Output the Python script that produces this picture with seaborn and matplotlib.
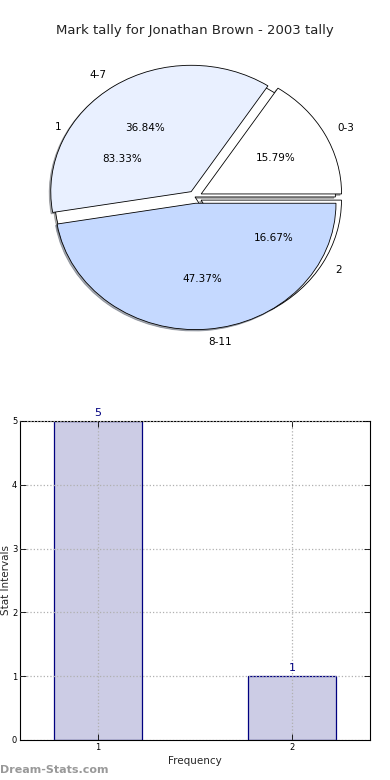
import numpy as np
import pandas as pd
import matplotlib
matplotlib.use("Agg")
import matplotlib.pyplot as plt
import seaborn as sns

# data
tally_labels = ['0-3', '4-7', '8-11']
tally_values = [3, 7, 9]          # 15.79%, 36.84%, 47.37%
freq_labels = ['1', '2']
freq_values = [5, 1]              # 83.33%, 16.67%
bar_x = [1, 2]
bar_heights = [5, 1]

sns.set_theme(style="white")
plt.rcParams['font.family'] = ['DejaVu Sans']

fig = plt.figure(figsize=(3.9, 7.8), dpi=100)

## pie chart (two pies drawn on the same axes)
shadow_kw = dict(ox=-0.008, oy=-0.008, shade=0.6)
ax1 = fig.add_axes([0.05, 0.545, 0.90, 0.405])
ax1.pie(freq_values, labels=freq_labels, autopct='%.2f%%', explode=(0, 0.05),
        colors=['white', 'white'], shadow=shadow_kw, startangle=0,
        wedgeprops=dict(edgecolor='black', linewidth=0.6),
        textprops=dict(fontsize=7.5, color='black'))
ax1.pie(tally_values, labels=tally_labels, autopct='%.2f%%', explode=(0.05, 0.05, 0.05),
        colors=['white', '#e9f0ff', '#c5d9ff'], shadow=shadow_kw, startangle=0,
        wedgeprops=dict(edgecolor='black', linewidth=0.6),
        textprops=dict(fontsize=7.5, color='black'))
ax1.set_aspect('auto')
ax1.set_xlim(-1.25, 1.25)
ax1.set_ylim(-1.25, 1.25)
fig.text(0.5, 0.961, 'Mark tally for Jonathan Brown - 2003 tally', ha='center', va='center',
         fontsize=9.5, color='#222222')

## bar chart
ax2 = fig.add_axes([0.0513, 0.0513, 0.8974, 0.4090])
df = pd.DataFrame({'x': bar_x, 'y': bar_heights})
sns.barplot(data=df, x='x', y='y', native_scale=True, width=0.45, ax=ax2,
            color=(0, 0, 0.5, 0.2), edgecolor='navy', linewidth=0.9, saturation=1)
for p in ax2.patches:
    p.set_facecolor((0, 0, 0.5, 0.2))
    p.set_edgecolor('navy')
for xv, yv in zip(bar_x, bar_heights):
    ax2.text(xv, yv + 0.05, str(yv), ha='center', va='bottom', fontsize=8, color='navy')
ax2.set_xlim(0.6, 2.4)
ax2.set_ylim(0, 5)
ax2.set_xticks(bar_x)
ax2.set_xticklabels(freq_labels)
ax2.set_yticks(range(6))
ax2.tick_params(axis='both', which='both', direction='in', length=4, width=0.6,
                labelsize=6, top=True, right=True, bottom=True, left=True, pad=2,
                colors='black')
ax2.grid(True, linestyle=':', color='#b0b0b0', linewidth=0.9)
ax2.set_axisbelow(False)
for s in ax2.spines.values():
    s.set_color('black')
    s.set_linewidth(0.8)
ax2.set_xlabel('Frequency', fontsize=7.5, labelpad=3)
ax2.set_ylabel('Stat Intervals', fontsize=7.5, labelpad=2)
ax2.yaxis.set_label_coords(-0.027, 0.5)

fig.text(0.0, 0.013, 'Dream-Stats.com', fontsize=8, color='#999999', fontweight='bold',
         ha='left', va='center')

fig.savefig('out.png', dpi=100)
